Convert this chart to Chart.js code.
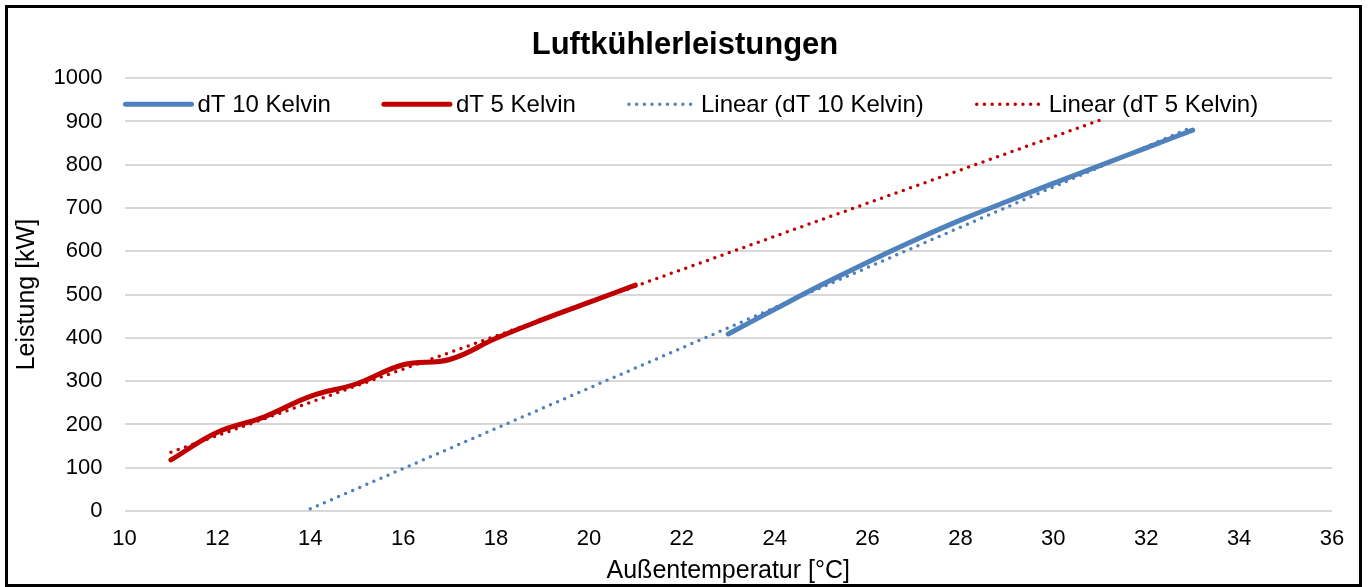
<!DOCTYPE html>
<html>
<head>
<meta charset="utf-8">
<title>Luftkühlerleistungen</title>
<script src="https://cdn.jsdelivr.net/npm/chart.js@4.4.0/dist/chart.umd.min.js"></script>
<style>
  body { margin: 0; background: #fff; }
  #rahmen {
    position: absolute; left: 5px; top: 5px;
    width: 1357px; height: 582px;
    border: 3px solid #000; box-sizing: border-box;
  }
  #chart { position: absolute; left: 0; top: 0; }
</style>
</head>
<body>
<div id="rahmen"></div>
<canvas id="chart" width="1370" height="587"></canvas>
<script>
const temperaturDT10 = [23, 24, 25, 26, 27, 28, 29, 30, 31, 32, 33];
const leistungDT10 = [409, 466, 522, 575, 625, 672, 715, 757, 798, 839, 880];

const temperaturDT5 = [11, 12, 13, 14, 15, 16, 17, 18, 19, 20, 21];
const leistungDT5 = [118, 182, 217, 265, 294, 338, 350, 399, 442, 482, 522];

// Trendlinien (Anfang / Ende)
const trendTempDT10 = [14, 33];
const trendDT10 = [5, 888];
const trendTempDT5 = [11, 31];
const trendDT5 = [136, 903];

const xTicks = { min: 10, max: 36, step: 2 };
const yTicks = { min: 0, max: 1000, step: 100 };

const blau = "#4f81bd";
const rot = "#c00000";

function punkte(xs, ys) {
  return xs.map((x, i) => ({ x: x, y: ys[i] }));
}

Chart.defaults.font.family = '"Liberation Sans", Arial, sans-serif';
Chart.defaults.color = "#000";

// eigene Legende innerhalb der Zeichenfläche (wie in Excel)
const legende = {
  id: "legende",
  afterDraw(chart) {
    const ctx = chart.ctx;
    const area = chart.chartArea;
    let x = area.left + 1;
    const y = area.top + 26;
    ctx.save();
    ctx.font = '24px "Liberation Sans", Arial, sans-serif';
    ctx.textBaseline = "middle";
    chart.data.datasets.forEach(ds => {
      ctx.beginPath();
      ctx.strokeStyle = ds.borderColor;
      ctx.lineWidth = ds.borderWidth;
      ctx.lineCap = "round";
      ctx.setLineDash(ds.borderDash || []);
      ctx.moveTo(x, y);
      ctx.lineTo(x + 66, y);
      ctx.stroke();
      ctx.setLineDash([]);
      ctx.fillStyle = "#000";
      ctx.fillText(ds.label, x + 72, y + 1);
      x += 72 + ctx.measureText(ds.label).width + 53;
    });
    ctx.restore();
  }
};

let ctx = document.getElementById("chart").getContext("2d");
let myChart = new Chart(ctx, {
  type: "line",
  data: {
    datasets: [
      {
        label: "dT 10 Kelvin",
        data: punkte(temperaturDT10, leistungDT10),
        borderColor: blau,
        borderWidth: 5,
        borderCapStyle: "round",
        tension: 0.4,
        pointRadius: 0,
      },
      {
        label: "dT 5 Kelvin",
        data: punkte(temperaturDT5, leistungDT5),
        borderColor: rot,
        borderWidth: 5,
        borderCapStyle: "round",
        tension: 0.4,
        pointRadius: 0,
      },
      {
        label: "Linear (dT 10 Kelvin)",
        data: punkte(trendTempDT10, trendDT10),
        borderColor: blau,
        borderWidth: 3.5,
        borderDash: [0, 7.7],
        borderCapStyle: "round",
        pointRadius: 0,
      },
      {
        label: "Linear (dT 5 Kelvin)",
        data: punkte(trendTempDT5, trendDT5),
        borderColor: rot,
        borderWidth: 3.5,
        borderDash: [0, 7.7],
        borderCapStyle: "round",
        pointRadius: 0,
      },
    ],
  },
  options: {
    responsive: false,
    animation: false,
    layout: { padding: 0 },
    plugins: {
      legend: { display: false },
      tooltip: { enabled: false },
      title: {
        display: true,
        text: "Luftkühlerleistungen",
        color: "#000",
        font: { size: 31, weight: "bold" },
        padding: { top: 27, bottom: 14 },
      },
    },
    scales: {
      x: {
        type: "linear",
        min: xTicks.min,
        max: xTicks.max,
        ticks: { stepSize: xTicks.step, padding: 15, font: { size: 22 }, color: "#000" },
        grid: { display: false, drawTicks: false },
        border: { display: false },
        title: {
          display: true,
          text: "Außentemperatur [°C]",
          color: "#000",
          font: { size: 25 },
          padding: { top: 0, bottom: 1 },
        },
        afterFit: s => { s.height = 76; },
      },
      y: {
        min: yTicks.min,
        max: yTicks.max,
        ticks: {
          stepSize: yTicks.step,
          padding: 22,
          font: { size: 22 },
          color: "#000",
          callback: v => String(v),
        },
        grid: { color: "#d9d9d9", lineWidth: 2, drawTicks: false },
        border: { display: false },
        title: {
          display: true,
          text: "Leistung [kW]",
          color: "#000",
          font: { size: 25 },
          padding: { top: 12, bottom: 0 },
        },
        afterFit: s => { s.width = 124.5; },
      },
      rechts: {
        position: "right",
        ticks: { display: false },
        grid: { display: false, drawTicks: false },
        border: { display: false },
        afterFit: s => { s.width = 38; },
      },
    },
  },
  plugins: [legende],
});
</script>
</body>
</html>
